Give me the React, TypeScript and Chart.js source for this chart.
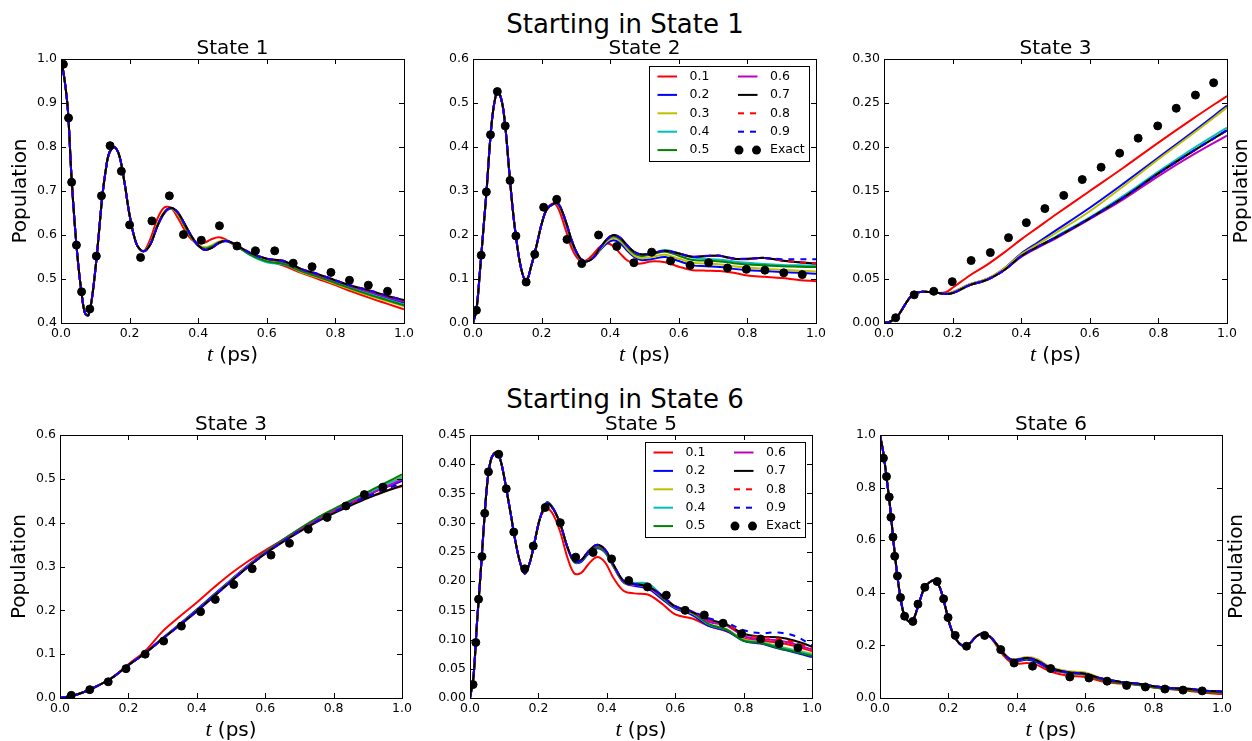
import React, { useEffect, useRef } from 'react';
import { Chart, registerables } from 'chart.js';

Chart.register(...registerables);

// ---------- series meta ----------
const SERIES_LABELS = ['0.1', '0.2', '0.3', '0.4', '0.5', '0.6', '0.7', '0.8', '0.9'];
const EXACT_LABEL = 'Exact';
const SERIES_COLORS = ['#ff0000', '#0000ff', '#bfbf00', '#00bfbf', '#008000', '#bf00bf', '#000000', '#ff0000', '#0000ff'];
const SERIES_DASHED = [false, false, false, false, false, false, false, true, true];

// ---------- Panel 1: Starting in State 1 -> State 1 ----------
const p1T = [0, 0.01, 0.02, 0.03, 0.04, 0.05, 0.06, 0.07, 0.08, 0.09, 0.1, 0.11, 0.12, 0.13, 0.14, 0.155, 0.17, 0.185, 0.2, 0.22, 0.24,
  0.26, 0.28, 0.3, 0.32, 0.34, 0.36, 0.38, 0.4, 0.42, 0.44, 0.46, 0.48, 0.5, 0.55, 0.6, 0.65, 0.7, 0.75, 0.8, 0.85, 0.9, 0.95, 1.0];
const p1Head = [1.0, 0.955, 0.885, 0.74, 0.625, 0.535, 0.468, 0.422, 0.418, 0.455, 0.52, 0.6, 0.685, 0.745, 0.785, 0.8, 0.78, 0.72, 0.645, 0.58, 0.563];
const p1Red = [0.59, 0.635, 0.662, 0.662, 0.64, 0.612, 0.59, 0.581, 0.583, 0.591, 0.595, 0.59, 0.58, 0.558, 0.543, 0.53, 0.514, 0.5, 0.486, 0.471, 0.457, 0.444, 0.431];
const p1Blue = [0.578, 0.618, 0.648, 0.66, 0.651, 0.625, 0.597, 0.576, 0.567, 0.571, 0.581, 0.586, 0.581, 0.559, 0.545, 0.537, 0.52, 0.507, 0.494, 0.481, 0.469, 0.457, 0.446];
const p1Yellow = [0.58, 0.622, 0.652, 0.661, 0.648, 0.62, 0.594, 0.577, 0.572, 0.577, 0.585, 0.588, 0.582, 0.558, 0.542, 0.534, 0.516, 0.503, 0.489, 0.475, 0.462, 0.45, 0.438];
const p1Cyan = [0.579, 0.62, 0.65, 0.661, 0.65, 0.622, 0.595, 0.576, 0.569, 0.574, 0.583, 0.587, 0.581, 0.555, 0.538, 0.533, 0.518, 0.505, 0.492, 0.478, 0.466, 0.454, 0.442];
const p1Green = [0.579, 0.62, 0.65, 0.661, 0.65, 0.622, 0.595, 0.576, 0.569, 0.574, 0.583, 0.587, 0.581, 0.556, 0.54, 0.534, 0.518, 0.505, 0.491, 0.477, 0.464, 0.452, 0.44];
const p1Magenta = [0.578, 0.618, 0.649, 0.662, 0.652, 0.626, 0.598, 0.576, 0.566, 0.571, 0.582, 0.587, 0.582, 0.56, 0.546, 0.54, 0.522, 0.509, 0.496, 0.482, 0.471, 0.459, 0.449];
const p1Upper = [0.578, 0.618, 0.649, 0.662, 0.652, 0.626, 0.598, 0.576, 0.566, 0.571, 0.582, 0.587, 0.582, 0.56, 0.546, 0.541, 0.523, 0.511, 0.497, 0.484, 0.474, 0.462, 0.452];
const p1ExactT = [0.007, 0.022, 0.031, 0.045, 0.06, 0.084, 0.103, 0.118, 0.143, 0.176, 0.2, 0.232, 0.265, 0.316, 0.357, 0.409, 0.462, 0.513, 0.567, 0.623, 0.677, 0.732, 0.787, 0.841, 0.896, 0.952];
const p1ExactY = [0.988, 0.866, 0.72, 0.577, 0.471, 0.432, 0.552, 0.689, 0.803, 0.745, 0.623, 0.549, 0.632, 0.689, 0.601, 0.588, 0.621, 0.575, 0.564, 0.564, 0.536, 0.528, 0.515, 0.497, 0.486, 0.472];

// ---------- Panel 2: Starting in State 1 -> State 2 ----------
const p2T = [0, 0.01, 0.02, 0.03, 0.04, 0.05, 0.06, 0.072, 0.085, 0.095, 0.105, 0.115, 0.125, 0.14, 0.155, 0.17, 0.185, 0.2, 0.215,
  0.235, 0.25, 0.27, 0.29, 0.31, 0.33, 0.35, 0.37, 0.39, 0.41, 0.43, 0.45, 0.47, 0.49, 0.52, 0.56, 0.6, 0.64, 0.68, 0.72, 0.76, 0.8, 0.85, 0.9, 0.95, 1.0];
const p2Head = [0, 0.03, 0.115, 0.21, 0.305, 0.415, 0.49, 0.527, 0.5, 0.44, 0.35, 0.265, 0.198, 0.125, 0.095, 0.13, 0.175, 0.225, 0.258];
const p2Red = [0.272, 0.258, 0.212, 0.166, 0.143, 0.142, 0.156, 0.173, 0.181, 0.174, 0.157, 0.142, 0.136, 0.135, 0.14, 0.138, 0.128, 0.12, 0.119, 0.118, 0.114, 0.108, 0.105, 0.102, 0.098, 0.095];
const p2Blue = [0.271, 0.268, 0.228, 0.178, 0.147, 0.14, 0.147, 0.165, 0.181, 0.188, 0.181, 0.164, 0.15, 0.143, 0.145, 0.15, 0.141, 0.131, 0.129, 0.127, 0.123, 0.12, 0.118, 0.116, 0.114, 0.112];
const p2Yellow = [0.271, 0.268, 0.23, 0.18, 0.148, 0.14, 0.148, 0.167, 0.185, 0.193, 0.186, 0.168, 0.153, 0.147, 0.15, 0.155, 0.146, 0.137, 0.135, 0.133, 0.129, 0.126, 0.123, 0.121, 0.119, 0.117];
const p2Cyan = [0.271, 0.269, 0.231, 0.182, 0.149, 0.14, 0.149, 0.169, 0.189, 0.198, 0.191, 0.174, 0.159, 0.154, 0.158, 0.166, 0.158, 0.149, 0.146, 0.144, 0.14, 0.137, 0.134, 0.132, 0.131, 0.13];
const p2Green = [0.271, 0.269, 0.231, 0.182, 0.149, 0.14, 0.149, 0.169, 0.189, 0.197, 0.19, 0.173, 0.158, 0.152, 0.156, 0.162, 0.153, 0.143, 0.142, 0.14, 0.136, 0.133, 0.131, 0.129, 0.128, 0.127];
const p2Magenta = [0.271, 0.27, 0.232, 0.183, 0.15, 0.14, 0.148, 0.17, 0.19, 0.2, 0.193, 0.176, 0.162, 0.156, 0.158, 0.164, 0.158, 0.151, 0.153, 0.152, 0.146, 0.145, 0.148, 0.142, 0.138, 0.136];
const p2Black = [0.271, 0.27, 0.232, 0.183, 0.15, 0.14, 0.148, 0.17, 0.19, 0.2, 0.193, 0.176, 0.162, 0.156, 0.158, 0.164, 0.158, 0.15, 0.152, 0.153, 0.146, 0.146, 0.148, 0.142, 0.138, 0.135];
const p2BlueDash = [0.271, 0.27, 0.232, 0.183, 0.15, 0.14, 0.148, 0.17, 0.19, 0.2, 0.193, 0.176, 0.162, 0.156, 0.158, 0.164, 0.158, 0.15, 0.152, 0.153, 0.147, 0.146, 0.148, 0.145, 0.145, 0.145];
const p2ExactT = [0.01, 0.024, 0.039, 0.051, 0.071, 0.094, 0.108, 0.125, 0.155, 0.18, 0.206, 0.244, 0.274, 0.317, 0.366, 0.419, 0.469, 0.521, 0.576, 0.633, 0.687, 0.742, 0.797, 0.851, 0.906, 0.96];
const p2ExactY = [0.029, 0.154, 0.298, 0.428, 0.526, 0.448, 0.324, 0.198, 0.093, 0.156, 0.263, 0.281, 0.19, 0.135, 0.2, 0.174, 0.137, 0.161, 0.141, 0.131, 0.137, 0.125, 0.122, 0.12, 0.114, 0.11];

// ---------- Panel 3: Starting in State 1 -> State 3 ----------
const p3T = [0, 0.02, 0.04, 0.06, 0.08, 0.1, 0.12, 0.14, 0.16, 0.18, 0.2, 0.25, 0.3, 0.35, 0.4, 0.45, 0.5, 0.6, 0.7, 0.8, 0.9, 1.0];
const p3Head = [0, 0.002, 0.008, 0.02, 0.031, 0.035, 0.0355, 0.035, 0.034];
const p3Red = [0.035, 0.04, 0.054, 0.066, 0.08, 0.095, 0.109, 0.123, 0.15, 0.177, 0.205, 0.232, 0.258];
const p3Blue = [0.033, 0.035, 0.044, 0.05, 0.062, 0.079, 0.092, 0.105, 0.131, 0.159, 0.188, 0.217, 0.247];
const p3Yellow = [0.033, 0.035, 0.044, 0.05, 0.062, 0.078, 0.09, 0.102, 0.127, 0.156, 0.186, 0.215, 0.245];
const p3Cyan = [0.033, 0.034, 0.043, 0.049, 0.06, 0.076, 0.087, 0.098, 0.12, 0.145, 0.172, 0.198, 0.222];
const p3Lower = [0.033, 0.034, 0.043, 0.049, 0.06, 0.076, 0.087, 0.097, 0.119, 0.143, 0.17, 0.195, 0.219];
const p3Magenta = [0.033, 0.034, 0.043, 0.049, 0.06, 0.075, 0.086, 0.096, 0.118, 0.141, 0.167, 0.191, 0.213];
const p3ExactT = [0.034, 0.088, 0.145, 0.199, 0.254, 0.31, 0.363, 0.415, 0.469, 0.524, 0.578, 0.633, 0.687, 0.741, 0.798, 0.852, 0.908, 0.961];
const p3ExactY = [0.006, 0.032, 0.036, 0.047, 0.071, 0.08, 0.097, 0.114, 0.13, 0.145, 0.163, 0.177, 0.193, 0.21, 0.224, 0.244, 0.259, 0.273];

// ---------- Panel 4: Starting in State 6 -> State 3 ----------
const p4T = [0, 0.05, 0.1, 0.15, 0.2, 0.25, 0.3, 0.35, 0.4, 0.45, 0.5, 0.55, 0.6, 0.65, 0.7, 0.75, 0.8, 0.85, 0.9, 0.95, 1.0];
const p4Head = [0, 0.008, 0.024, 0.045];
const p4Red = [0.077, 0.108, 0.152, 0.186, 0.218, 0.252, 0.284, 0.312, 0.337, 0.36, 0.382, 0.403, 0.423, 0.442, 0.458, 0.472, 0.483];
const p4Blue = [0.075, 0.104, 0.137, 0.169, 0.202, 0.236, 0.27, 0.303, 0.333, 0.36, 0.385, 0.408, 0.428, 0.446, 0.464, 0.48, 0.495];
const p4Yellow = [0.075, 0.103, 0.135, 0.167, 0.199, 0.233, 0.268, 0.301, 0.332, 0.359, 0.385, 0.409, 0.43, 0.45, 0.469, 0.487, 0.505];
const p4Cyan = [0.075, 0.103, 0.135, 0.167, 0.199, 0.233, 0.267, 0.3, 0.331, 0.358, 0.384, 0.408, 0.429, 0.449, 0.468, 0.486, 0.503];
const p4Green = [0.075, 0.103, 0.135, 0.167, 0.199, 0.233, 0.267, 0.3, 0.332, 0.36, 0.386, 0.41, 0.431, 0.451, 0.47, 0.49, 0.51];
const p4Magenta = [0.075, 0.103, 0.135, 0.166, 0.198, 0.232, 0.266, 0.3, 0.33, 0.357, 0.382, 0.405, 0.426, 0.445, 0.463, 0.481, 0.498];
const p4Black = [0.075, 0.103, 0.135, 0.166, 0.198, 0.232, 0.266, 0.299, 0.329, 0.355, 0.379, 0.401, 0.421, 0.439, 0.456, 0.471, 0.485];
const p4Dash = [0.075, 0.103, 0.135, 0.166, 0.198, 0.232, 0.266, 0.299, 0.329, 0.356, 0.381, 0.403, 0.424, 0.443, 0.46, 0.476, 0.49];
const p4ExactT = [0.033, 0.087, 0.141, 0.193, 0.249, 0.303, 0.355, 0.411, 0.454, 0.508, 0.562, 0.617, 0.671, 0.726, 0.781, 0.836, 0.89, 0.944];
const p4ExactY = [0.006, 0.019, 0.037, 0.067, 0.1, 0.13, 0.164, 0.197, 0.225, 0.259, 0.295, 0.326, 0.353, 0.385, 0.412, 0.438, 0.464, 0.481];

// ---------- Panel 5: Starting in State 6 -> State 5 ----------
const p5T = [0, 0.01, 0.02, 0.03, 0.04, 0.05, 0.06, 0.07, 0.08, 0.09, 0.1, 0.11, 0.12, 0.13, 0.145, 0.16, 0.175, 0.19, 0.205,
  0.225, 0.245, 0.265, 0.285, 0.305, 0.325, 0.345, 0.37, 0.395, 0.42, 0.45, 0.48, 0.52, 0.56, 0.6, 0.65, 0.7, 0.75, 0.8, 0.85, 0.9, 0.95, 1.0];
const p5Head = [0, 0.035, 0.125, 0.205, 0.29, 0.365, 0.405, 0.418, 0.42, 0.405, 0.378, 0.345, 0.312, 0.277, 0.235, 0.213, 0.232, 0.27, 0.308];
const p5Red = [0.324, 0.312, 0.282, 0.24, 0.213, 0.214, 0.228, 0.241, 0.232, 0.205, 0.183, 0.179, 0.177, 0.162, 0.143, 0.136, 0.123, 0.114, 0.102, 0.098, 0.095, 0.089, 0.08];
const p5Blue = [0.335, 0.323, 0.296, 0.257, 0.232, 0.233, 0.246, 0.256, 0.249, 0.224, 0.197, 0.192, 0.187, 0.17, 0.153, 0.142, 0.123, 0.115, 0.098, 0.093, 0.085, 0.078, 0.07];
const p5Yellow = [0.334, 0.322, 0.296, 0.258, 0.233, 0.235, 0.249, 0.259, 0.251, 0.226, 0.198, 0.194, 0.19, 0.173, 0.155, 0.145, 0.126, 0.118, 0.1, 0.096, 0.089, 0.082, 0.076];
const p5Cyan = [0.334, 0.322, 0.296, 0.258, 0.233, 0.235, 0.248, 0.258, 0.251, 0.226, 0.2, 0.197, 0.196, 0.176, 0.155, 0.146, 0.125, 0.117, 0.099, 0.095, 0.088, 0.081, 0.074];
const p5Green = [0.334, 0.322, 0.296, 0.258, 0.233, 0.235, 0.248, 0.258, 0.25, 0.225, 0.198, 0.195, 0.192, 0.173, 0.155, 0.146, 0.126, 0.117, 0.098, 0.094, 0.086, 0.079, 0.072];
const p5Magenta = [0.333, 0.322, 0.296, 0.258, 0.234, 0.236, 0.25, 0.261, 0.253, 0.227, 0.199, 0.194, 0.19, 0.175, 0.156, 0.148, 0.13, 0.124, 0.106, 0.1, 0.099, 0.092, 0.083];
const p5Black = [0.333, 0.322, 0.296, 0.258, 0.234, 0.236, 0.25, 0.262, 0.254, 0.228, 0.2, 0.195, 0.191, 0.176, 0.157, 0.147, 0.134, 0.126, 0.11, 0.105, 0.104, 0.098, 0.088];
const p5RedDash = [0.333, 0.322, 0.296, 0.258, 0.234, 0.236, 0.25, 0.262, 0.254, 0.228, 0.2, 0.195, 0.191, 0.176, 0.157, 0.147, 0.134, 0.126, 0.109, 0.104, 0.102, 0.095, 0.085];
const p5BlueDash = [0.333, 0.322, 0.296, 0.258, 0.234, 0.236, 0.25, 0.262, 0.254, 0.228, 0.2, 0.195, 0.191, 0.176, 0.157, 0.148, 0.136, 0.129, 0.116, 0.111, 0.112, 0.106, 0.09];
const p5ExactT = [0.009, 0.017, 0.025, 0.035, 0.043, 0.054, 0.084, 0.106, 0.128, 0.16, 0.185, 0.22, 0.264, 0.309, 0.36, 0.414, 0.464, 0.519, 0.574, 0.629, 0.685, 0.74, 0.794, 0.85, 0.904, 0.959];
const p5ExactY = [0.023, 0.095, 0.169, 0.242, 0.316, 0.387, 0.417, 0.358, 0.284, 0.221, 0.26, 0.326, 0.3, 0.241, 0.249, 0.238, 0.201, 0.19, 0.176, 0.15, 0.142, 0.128, 0.11, 0.101, 0.093, 0.086];

// ---------- Panel 6: Starting in State 6 -> State 6 ----------
const p6T = [0, 0.01, 0.02, 0.03, 0.04, 0.05, 0.06, 0.07, 0.08, 0.09, 0.1, 0.115, 0.13, 0.145, 0.16, 0.175, 0.19, 0.205, 0.22, 0.24, 0.26, 0.28, 0.3, 0.32,
  0.34, 0.36, 0.38, 0.4, 0.43, 0.46, 0.5, 0.55, 0.6, 0.65, 0.7, 0.75, 0.8, 0.85, 0.9, 0.95, 1.0];
const p6Head = [1.0, 0.93, 0.83, 0.72, 0.588, 0.472, 0.38, 0.318, 0.295, 0.29, 0.305, 0.365, 0.418, 0.44, 0.447, 0.42, 0.352, 0.275, 0.228, 0.2, 0.205, 0.232, 0.245, 0.235];
const p6Red = [0.2, 0.163, 0.138, 0.13, 0.133, 0.125, 0.1, 0.085, 0.08, 0.063, 0.055, 0.05, 0.04, 0.033, 0.028, 0.02, 0.015];
const p6Blue = [0.205, 0.17, 0.145, 0.14, 0.145, 0.135, 0.108, 0.095, 0.09, 0.07, 0.06, 0.052, 0.043, 0.037, 0.033, 0.027, 0.025];
const p6Yellow = [0.207, 0.173, 0.15, 0.148, 0.156, 0.148, 0.117, 0.102, 0.097, 0.075, 0.062, 0.054, 0.043, 0.036, 0.032, 0.025, 0.02];
const p6Green = [0.205, 0.17, 0.145, 0.142, 0.148, 0.14, 0.112, 0.095, 0.088, 0.068, 0.058, 0.05, 0.04, 0.034, 0.03, 0.024, 0.019];
const p6Black = [0.207, 0.172, 0.148, 0.145, 0.152, 0.142, 0.113, 0.098, 0.092, 0.073, 0.062, 0.055, 0.045, 0.038, 0.035, 0.028, 0.024];
const p6ExactT = [0.01, 0.019, 0.027, 0.032, 0.038, 0.043, 0.051, 0.06, 0.072, 0.096, 0.111, 0.131, 0.167, 0.186, 0.199, 0.22, 0.253, 0.306, 0.353, 0.392, 0.446, 0.499, 0.555, 0.611, 0.664, 0.721, 0.776, 0.833, 0.886, 0.942];
const p6ExactY = [0.912, 0.842, 0.764, 0.687, 0.612, 0.539, 0.464, 0.382, 0.311, 0.291, 0.357, 0.421, 0.443, 0.377, 0.306, 0.238, 0.197, 0.238, 0.184, 0.133, 0.121, 0.112, 0.08, 0.076, 0.064, 0.048, 0.042, 0.034, 0.03, 0.027];

// ---------- text ----------
const SUPTITLES = ['Starting in State 1', 'Starting in State 6'];
const Y_LABEL = 'Population';
const X_LABEL_VAR = 't';
const X_LABEL_UNIT = ' (ps)';

const join = (head: number[], tails: number[][]) => tails.map((tl) => head.concat(tl));

type PanelDef = {
  title: string;
  t: number[];
  lines: number[][];
  exactT: number[];
  exactY: number[];
  yMin: number;
  yMax: number;
  yStep: number;
  yDec: number;
  yLabelSide: 'left' | 'right' | 'none';
  legend: boolean;
  rect: [number, number, number, number]; // plot area: left, top, right, bottom
};

const PANELS: PanelDef[] = [
  {
    title: 'State 1', t: p1T,
    lines: join(p1Head, [p1Red, p1Blue, p1Yellow, p1Cyan, p1Green, p1Magenta, p1Upper, p1Upper, p1Upper]),
    exactT: p1ExactT, exactY: p1ExactY, yMin: 0.4, yMax: 1.0, yStep: 0.1, yDec: 1,
    yLabelSide: 'left', legend: false, rect: [61, 59, 404, 323],
  },
  {
    title: 'State 2', t: p2T,
    lines: join(p2Head, [p2Red, p2Blue, p2Yellow, p2Cyan, p2Green, p2Magenta, p2Black, p2Black, p2BlueDash]),
    exactT: p2ExactT, exactY: p2ExactY, yMin: 0, yMax: 0.6, yStep: 0.1, yDec: 1,
    yLabelSide: 'none', legend: true, rect: [473, 59, 816, 323],
  },
  {
    title: 'State 3', t: p3T,
    lines: join(p3Head, [p3Red, p3Blue, p3Yellow, p3Cyan, p3Lower, p3Magenta, p3Lower, p3Lower, p3Lower]),
    exactT: p3ExactT, exactY: p3ExactY, yMin: 0, yMax: 0.3, yStep: 0.05, yDec: 2,
    yLabelSide: 'right', legend: false, rect: [884, 59, 1227, 323],
  },
  {
    title: 'State 3', t: p4T,
    lines: join(p4Head, [p4Red, p4Blue, p4Yellow, p4Cyan, p4Green, p4Magenta, p4Black, p4Dash, p4Dash]),
    exactT: p4ExactT, exactY: p4ExactY, yMin: 0, yMax: 0.6, yStep: 0.1, yDec: 1,
    yLabelSide: 'left', legend: false, rect: [60, 435, 402, 698],
  },
  {
    title: 'State 5', t: p5T,
    lines: join(p5Head, [p5Red, p5Blue, p5Yellow, p5Cyan, p5Green, p5Magenta, p5Black, p5RedDash, p5BlueDash]),
    exactT: p5ExactT, exactY: p5ExactY, yMin: 0, yMax: 0.45, yStep: 0.05, yDec: 2,
    yLabelSide: 'none', legend: true, rect: [470, 435, 812, 698],
  },
  {
    title: 'State 6', t: p6T,
    lines: join(p6Head, [p6Red, p6Blue, p6Yellow, p6Black, p6Green, p6Black, p6Black, p6Black, p6Black]),
    exactT: p6ExactT, exactY: p6ExactY, yMin: 0, yMax: 1.0, yStep: 0.2, yDec: 1,
    yLabelSide: 'right', legend: false, rect: [880, 435, 1222, 698],
  },
];

PANELS.forEach((p, pi) => {
  p.lines.forEach((l, i) => {
    if (l.length !== p.t.length) throw new Error(`panel ${pi} line ${i}: ${l.length} vs ${p.t.length}`);
  });
  if (p.exactT.length !== p.exactY.length) throw new Error(`panel ${pi} exact ${p.exactT.length} vs ${p.exactY.length}`);
});

const FONT = '"DejaVu Sans", "Noto Sans", sans-serif';
const M_LEFT = 60, M_TOP = 45, M_RIGHT = 25, M_BOTTOM = 45;

const decorPlugin = {
  id: 'decor',
  afterDraw(chart: any, _args: any, opts: any) {
    const { ctx, chartArea: a } = chart;
    const xs = chart.scales.x, ys = chart.scales.y;
    ctx.save();
    ctx.strokeStyle = '#000';
    ctx.lineWidth = 1;
    ctx.setLineDash([]);
    ctx.beginPath();
    for (const tk of xs.ticks) {
      const px = Math.round(xs.getPixelForValue(tk.value)) + 0.5;
      ctx.moveTo(px, a.bottom); ctx.lineTo(px, a.bottom - 5);
      ctx.moveTo(px, a.top); ctx.lineTo(px, a.top + 5);
    }
    for (const tk of ys.ticks) {
      const py = Math.round(ys.getPixelForValue(tk.value)) + 0.5;
      ctx.moveTo(a.left, py); ctx.lineTo(a.left + 5, py);
      ctx.moveTo(a.right, py); ctx.lineTo(a.right - 5, py);
    }
    ctx.stroke();
    ctx.strokeRect(a.left + 0.5, a.top + 0.5, a.right - a.left, a.bottom - a.top);

    const cx = (a.left + a.right) / 2;
    const cy = (a.top + a.bottom) / 2;
    ctx.fillStyle = '#000';
    // subplot title
    ctx.font = `20px ${FONT}`;
    ctx.textAlign = 'center';
    ctx.textBaseline = 'alphabetic';
    ctx.fillText(opts.title, cx, a.top - 5);
    // x label: italic t + (ps)
    const varFont = 'italic 22px "Liberation Serif", "DejaVu Serif", serif';
    const unitFont = `20px ${FONT}`;
    ctx.font = varFont;
    const wv = ctx.measureText(X_LABEL_VAR).width;
    ctx.font = unitFont;
    const wu = ctx.measureText(X_LABEL_UNIT).width;
    const x0 = cx - (wv + wu) / 2;
    ctx.textAlign = 'left';
    ctx.font = varFont;
    ctx.fillText(X_LABEL_VAR, x0, a.bottom + 38);
    ctx.font = unitFont;
    ctx.fillText(X_LABEL_UNIT, x0 + wv, a.bottom + 38);
    // y label
    if (opts.yLabelSide !== 'none') {
      const bx = opts.yLabelSide === 'left' ? a.left - 35 : a.right + 19.5;
      ctx.save();
      ctx.translate(bx, cy);
      ctx.rotate(-Math.PI / 2);
      ctx.font = `20px ${FONT}`;
      ctx.textAlign = 'center';
      ctx.textBaseline = 'alphabetic';
      ctx.fillText(Y_LABEL, 0, 0);
      ctx.restore();
    }
    // legend
    if (opts.legend) {
      const bw = 160, bh = 95;
      const bx = Math.round(a.right - 7 - bw) + 0.5;
      const by = Math.round(a.top + 6.5) + 0.5;
      ctx.fillStyle = '#fff';
      ctx.fillRect(bx, by, bw, bh);
      ctx.strokeStyle = '#000';
      ctx.lineWidth = 1;
      ctx.strokeRect(bx, by, bw, bh);
      const dsets = chart.data.datasets;
      dsets.forEach((ds: any, i: number) => {
        const col = Math.floor(i / 5), row = i % 5;
        const y = by + 10 + row * 18.4;
        const lx0 = bx + 8 + col * 80.5;
        const lx1 = lx0 + 19.5;
        if (ds.showLine === false) {
          ctx.fillStyle = '#000';
          for (const px of [lx0 + 1, lx1 - 1]) {
            ctx.beginPath();
            ctx.arc(px, y, 4.5, 0, Math.PI * 2);
            ctx.fill();
          }
        } else {
          ctx.strokeStyle = ds.borderColor;
          ctx.lineWidth = 2;
          ctx.setLineDash(ds.borderDash || []);
          ctx.beginPath();
          ctx.moveTo(lx0, y);
          ctx.lineTo(lx1, y);
          ctx.stroke();
          ctx.setLineDash([]);
        }
        ctx.fillStyle = '#000';
        ctx.font = `12.5px ${FONT}`;
        ctx.textAlign = 'left';
        ctx.textBaseline = 'middle';
        ctx.fillText(ds.label, bx + 40 + col * 80.5, y);
      });
    }
    ctx.restore();
  },
};

function PanelChart({ p }: { p: PanelDef }) {
  const ref = useRef<HTMLCanvasElement>(null);
  const [l, t, r, b] = p.rect;
  const W = r - l + M_LEFT + M_RIGHT;
  const H = b - t + M_TOP + M_BOTTOM;
  useEffect(() => {
    const datasets: any[] = p.lines.map((ys, i) => ({
      label: SERIES_LABELS[i],
      data: p.t.map((x, k) => ({ x, y: ys[k] })),
      borderColor: SERIES_COLORS[i],
      backgroundColor: SERIES_COLORS[i],
      borderWidth: 2,
      borderDash: SERIES_DASHED[i] ? [6, 6] : [],
      pointRadius: 0,
      tension: 0.35,
      fill: false,
      order: 9 - i,
    }));
    datasets.push({
      label: EXACT_LABEL,
      data: p.exactT.map((x, k) => ({ x, y: p.exactY[k] })),
      showLine: false,
      pointRadius: 4,
      pointBorderWidth: 1,
      pointBackgroundColor: '#000',
      pointBorderColor: '#000',
      borderColor: '#000',
      backgroundColor: '#000',
      order: 0,
    });
    const tickFont = { family: FONT, size: 12.5 };
    const chart = new Chart(ref.current as HTMLCanvasElement, {
      type: 'line',
      data: { datasets },
      plugins: [decorPlugin as any],
      options: {
        responsive: false,
        animation: false,
        devicePixelRatio: 1,
        events: [],
        layout: { autoPadding: false, padding: { left: 0, top: M_TOP, right: M_RIGHT, bottom: 0 } },
        plugins: {
          legend: { display: false },
          title: { display: false },
          tooltip: { enabled: false },
          decor: { title: p.title, yLabelSide: p.yLabelSide, legend: p.legend },
        } as any,
        scales: {
          x: {
            type: 'linear', min: 0, max: 1,
            afterFit: (s: any) => { s.height = M_BOTTOM; },
            grid: { display: false, drawTicks: false },
            border: { display: false },
            ticks: {
              stepSize: 0.2, autoSkip: false, maxRotation: 0, padding: 3, color: '#000', font: tickFont,
              callback: (v: any) => Number(v).toFixed(1),
            },
          },
          y: {
            type: 'linear', min: p.yMin, max: p.yMax,
            afterFit: (s: any) => { s.width = M_LEFT; },
            grid: { display: false, drawTicks: false },
            border: { display: false },
            ticks: {
              stepSize: p.yStep, autoSkip: false, padding: 4, color: '#000', font: tickFont,
              callback: (v: any) => Number(v).toFixed(p.yDec),
            },
          },
        } as any,
      },
    });
    return () => chart.destroy();
  }, []);
  return (
    <canvas
      ref={ref}
      width={W}
      height={H}
      style={{ position: 'absolute', left: l - M_LEFT, top: t - M_TOP, width: W, height: H, display: 'block' }}
    />
  );
}

export default function App() {
  const supStyle = (top: number): React.CSSProperties => ({
    position: 'absolute', left: -1, width: 1252, top, textAlign: 'center',
    fontFamily: FONT, fontSize: 26, lineHeight: '30px', color: '#000', whiteSpace: 'nowrap',
  });
  return (
    <div style={{ position: 'absolute', left: 0, top: 0, width: 1252, height: 741, background: '#fff', overflow: 'hidden' }}>
      <div style={supStyle(8.5)}>{SUPTITLES[0]}</div>
      <div style={supStyle(384)}>{SUPTITLES[1]}</div>
      {PANELS.map((p, i) => (
        <PanelChart key={i} p={p} />
      ))}
    </div>
  );
}
